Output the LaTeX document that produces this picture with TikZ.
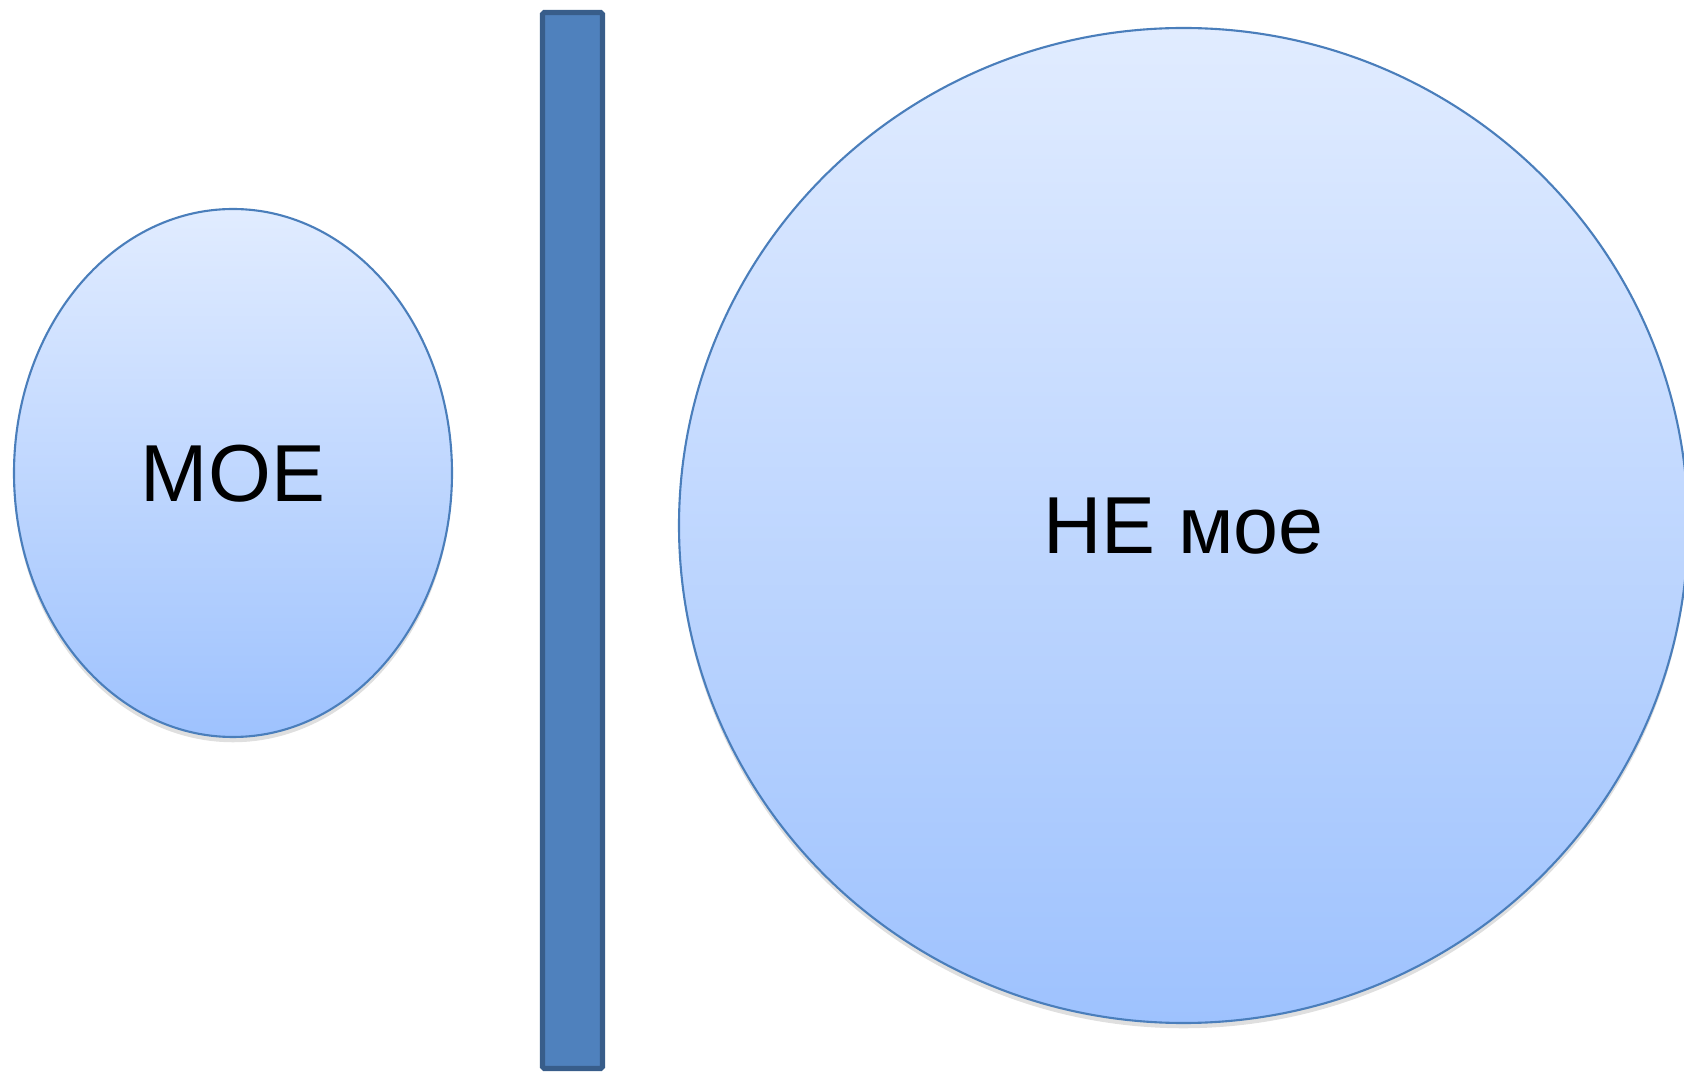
\documentclass[tikz,border=0pt]{standalone}
\usepackage{fontspec}
\setmainfont{Liberation Sans}
\usetikzlibrary{positioning, shapes.geometric, shadows}

\definecolor{blobtop}{RGB}{225,236,255}
\definecolor{blobbot}{RGB}{158,194,254}
\definecolor{blobline}{RGB}{74,126,187}
\definecolor{wallfill}{RGB}{79,129,189}
\definecolor{wallline}{RGB}{56,93,138}

\begin{document}
\begin{tikzpicture}[
  font=\fontsize{46}{52}\selectfont,
  blob/.style={ellipse, draw=blobline, line width=1.2pt, top color=blobtop, bottom color=blobbot,
    inner sep=0pt, text depth=0pt,
    drop shadow={shadow xshift=0pt, shadow yshift=-3pt, opacity=0.25}},
  wall/.style={draw=wallline, fill=wallfill, line width=3pt, rounded corners=1pt,
    inner sep=0pt, minimum width=1.2cm, minimum height=21.12cm}
]
\useasboundingbox (0,0) rectangle (33.68,21.44);

% mine, the wall, and not mine
\node[blob, minimum width=8.76cm, minimum height=10.56cm] (mine) at (4.66,11.98) {МОЕ};
\node[wall] (wall) at (11.45,10.63) {};
\node[blob, minimum width=20.18cm, minimum height=19.9cm] (other) at (23.67,10.93) {НЕ мое};

\end{tikzpicture}
\end{document}
